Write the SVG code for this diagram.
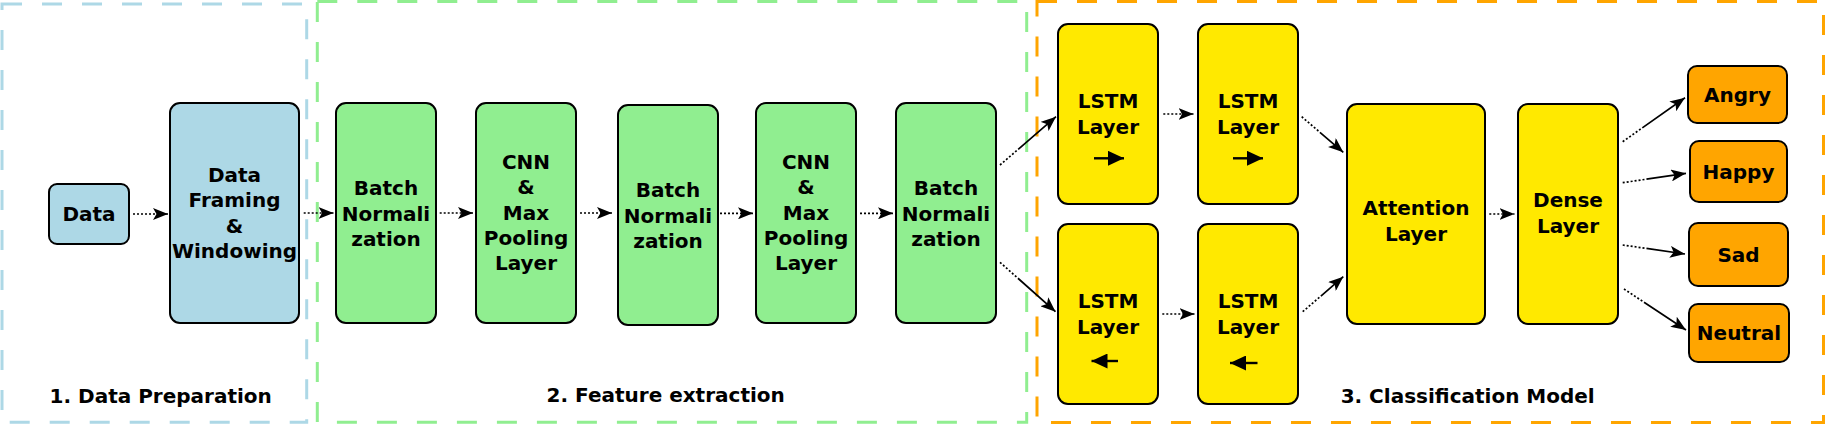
<svg xmlns="http://www.w3.org/2000/svg" width="1828" height="427" viewBox="0 0 1828 427">
<style>
text{font-family:"DejaVu Sans","Liberation Sans",sans-serif;font-weight:bold;font-size:20px;fill:#000;text-anchor:middle}
.n{stroke:#000;stroke-width:2}
.blue{fill:#ADD8E6}.green{fill:#90EE90}.yellow{fill:#FFE900}.orange{fill:#FFA500}
.frame{fill:none;stroke-width:3;stroke-dasharray:20 20}
.c{fill:none;stroke:#000;stroke-width:1.7;stroke-dasharray:2 2 2 2 2 2 2 2 2 2 2 2 500;marker-end:url(#ah)}
.dir{stroke:#000;stroke-width:2.4;fill:none}
</style>
<defs>
<marker id="ah" markerUnits="userSpaceOnUse" viewBox="0 0 15 12" refX="15" refY="6" markerWidth="15" markerHeight="12" orient="auto">
<path d="M0,0 L15,6 L0,12 L3.5,6 z" fill="#000"/>
</marker>
<marker id="dh" markerUnits="userSpaceOnUse" viewBox="0 0 16 15" refX="16" refY="7.5" markerWidth="16" markerHeight="15" orient="auto">
<path d="M0,0 L16,7.5 L0,15 z" fill="#000"/>
</marker>
</defs>

<g id="frames">
<rect id="frame-prep" class="frame" x="2" y="4" width="304.7" height="418.3" stroke="#ADD8E6"/>
<rect id="frame-feat" class="frame" x="317.3" y="1.5" width="709.4" height="420.8" stroke="#90EE90"/>
<rect id="frame-class" class="frame" x="1037" y="1.5" width="786.5" height="421" stroke="#FFA500"/>
<text x="160.7" y="402.7">1. Data Preparation</text>
<text x="665.7" y="402">2. Feature extraction</text>
<text x="1467.7" y="403">3. Classification Model</text>
</g>

<g id="data">
<rect class="n blue" x="49" y="184" width="80" height="60" rx="8"/>
<text x="89" y="221">Data</text>
</g>
<g id="framing">
<rect class="n blue" x="170" y="103" width="129" height="220" rx="10"/>
<text x="234.5" y="181.5">Data</text>
<text x="234.5" y="207">Framing</text>
<text x="234.5" y="232.5">&amp;</text>
<text x="234.5" y="258">Windowing</text>
</g>
<g id="bn1">
<rect class="n green" x="336" y="103" width="100" height="220" rx="10"/>
<text x="386" y="195">Batch</text>
<text x="386" y="220.5">Normali</text>
<text x="386" y="246">zation</text>
</g>
<g id="cnn1">
<rect class="n green" x="476" y="103" width="100" height="220" rx="10"/>
<text x="526" y="169">CNN</text>
<text x="526" y="194.3">&amp;</text>
<text x="526" y="220">Max</text>
<text x="526" y="245.3">Pooling</text>
<text x="526" y="270">Layer</text>
</g>
<g id="bn2">
<rect class="n green" x="618" y="105" width="100" height="220" rx="10"/>
<text x="668" y="197">Batch</text>
<text x="668" y="222.5">Normali</text>
<text x="668" y="248">zation</text>
</g>
<g id="cnn2">
<rect class="n green" x="756" y="103" width="100" height="220" rx="10"/>
<text x="806" y="169">CNN</text>
<text x="806" y="194.3">&amp;</text>
<text x="806" y="220">Max</text>
<text x="806" y="245.3">Pooling</text>
<text x="806" y="270">Layer</text>
</g>
<g id="bn3">
<rect class="n green" x="896" y="103" width="100" height="220" rx="10"/>
<text x="946" y="195">Batch</text>
<text x="946" y="220.5">Normali</text>
<text x="946" y="246">zation</text>
</g>

<g id="lstm-f1">
<rect class="n yellow" x="1058" y="24" width="100" height="180" rx="10"/>
<text x="1108" y="108.3">LSTM</text>
<text x="1108" y="134">Layer</text>
<line class="dir" x1="1094" y1="158.3" x2="1124" y2="158.3" marker-end="url(#dh)"/>
</g>
<g id="lstm-f2">
<rect class="n yellow" x="1198" y="24" width="100" height="180" rx="10"/>
<text x="1248" y="108.3">LSTM</text>
<text x="1248" y="134">Layer</text>
<line class="dir" x1="1233" y1="158.3" x2="1263" y2="158.3" marker-end="url(#dh)"/>
</g>
<g id="lstm-b1">
<rect class="n yellow" x="1058" y="224" width="100" height="180" rx="10"/>
<text x="1108" y="308.3">LSTM</text>
<text x="1108" y="334">Layer</text>
<line class="dir" x1="1118" y1="361" x2="1091.5" y2="361" marker-end="url(#dh)"/>
</g>
<g id="lstm-b2">
<rect class="n yellow" x="1198" y="224" width="100" height="180" rx="10"/>
<text x="1248" y="308.3">LSTM</text>
<text x="1248" y="334">Layer</text>
<line class="dir" x1="1257.5" y1="363" x2="1230" y2="363" marker-end="url(#dh)"/>
</g>
<g id="attention">
<rect class="n yellow" x="1347" y="104" width="138" height="220" rx="10"/>
<text x="1416" y="215">Attention</text>
<text x="1416" y="241">Layer</text>
</g>
<g id="dense">
<rect class="n yellow" x="1518" y="104" width="100" height="220" rx="10"/>
<text x="1568" y="207">Dense</text>
<text x="1568" y="233">Layer</text>
</g>
<g id="angry">
<rect class="n orange" x="1688" y="66" width="99" height="57" rx="9"/>
<text x="1737.5" y="101.5">Angry</text>
</g>
<g id="happy">
<rect class="n orange" x="1690" y="141" width="97" height="61" rx="9"/>
<text x="1738.5" y="179">Happy</text>
</g>
<g id="sad">
<rect class="n orange" x="1689" y="223" width="99" height="63" rx="9"/>
<text x="1738.5" y="261.5">Sad</text>
</g>
<g id="neutral">
<rect class="n orange" x="1689" y="304" width="100" height="58" rx="9"/>
<text x="1739" y="340">Neutral</text>
</g>

<g id="connectors">
<path class="c" d="M133,214 L168,214"/>
<path class="c" d="M303.7,213 L333.5,213"/>
<path class="c" d="M439.7,213 L473,213"/>
<path class="c" d="M580,213 L612,213"/>
<path class="c" d="M720,213.3 L753,213.3"/>
<path class="c" d="M860,213.3 L893,213.3"/>
<path class="c" d="M1000,165 L1056,116.7"/>
<path class="c" d="M1000,262.3 L1055.5,311.7"/>
<path class="c" d="M1163.3,114 L1193.5,114"/>
<path class="c" d="M1162.3,314 L1194.5,314"/>
<path class="c" d="M1301.7,116.7 L1343.3,152.3"/>
<path class="c" d="M1302.7,311.7 L1343.3,276.7"/>
<path class="c" d="M1489.3,214 L1514.5,214"/>
<path class="c" d="M1622.7,141.7 L1685,97.7"/>
<path class="c" d="M1622.7,182.7 L1686,173.3"/>
<path class="c" d="M1622.7,245 L1685,254"/>
<path class="c" d="M1624,289 L1686,330"/>
</g>
</svg>
